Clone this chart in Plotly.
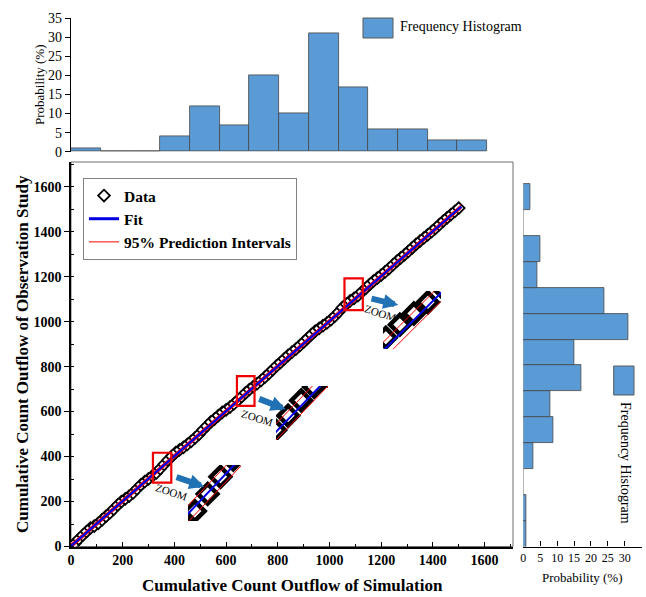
import plotly.graph_objects as go

# ---------------- data ----------------
sim_x = [0, 15, 30, 45, 60, 75, 90, 105, 120, 135, 150, 165, 180, 195, 210, 225, 240, 255, 270, 285,
         300, 315, 330, 345, 360, 375, 390, 405, 420, 435, 450, 465, 480, 495, 510, 525, 540, 555, 570, 585,
         600, 615, 630, 645, 660, 675, 690, 705, 720, 735, 750, 765, 780, 795, 810, 825, 840, 855, 870, 885,
         900, 915, 930, 945, 960, 975, 990, 1005, 1020, 1035, 1050, 1065, 1080, 1095, 1110, 1125, 1140, 1155,
         1170, 1185, 1200, 1215, 1230, 1245, 1260, 1275, 1290, 1305, 1320, 1335, 1350, 1365, 1380, 1395, 1410,
         1425, 1440, 1455, 1470, 1485, 1500]
obs_y = [2, 14, 33, 50, 66, 82, 91, 103, 118, 134, 149, 166, 184, 200, 212, 224, 238, 256, 274, 288,
         301, 314, 327, 346, 365, 384, 401, 418, 430, 441, 454, 468, 483, 499, 518, 535, 553, 567, 582, 596,
         608, 620, 634, 650, 666, 683, 698, 711, 724, 738, 753, 769, 786, 803, 818, 834, 850, 864, 878, 893,
         909, 926, 942, 958, 970, 982, 994, 1008, 1024, 1042, 1062, 1078, 1092, 1104, 1116, 1132, 1148, 1165,
         1180, 1194, 1207, 1221, 1236, 1252, 1268, 1283, 1297, 1312, 1328, 1344, 1358, 1372, 1386, 1400, 1415,
         1431, 1447, 1462, 1476, 1490, 1505]

fit_x = [0, 1510]
fit_y = [2, 1512]
pi_upper = [11, 1521]
pi_lower = [-7, 1503]

bin_edges = [0, 115, 230, 345, 460, 575, 690, 805, 920, 1035, 1150, 1265, 1380, 1495, 1610]
top_hist_prob = [1, 0, 0, 4, 12, 7, 20, 10, 31, 17, 6, 6, 3, 3]      # simulation
right_hist_prob = [1, 1, 0, 3, 9, 8, 17, 15, 31, 24, 4, 5, 0, 2]    # observation

zoom_boxes_x = [[317, 388], [642, 710], [1058, 1129]]
zoom_boxes_y = [[284, 417], [625, 758], [1051, 1192]]
inset_x_ranges = [[322, 384], [646, 706], [1062, 1124]]
inset_y_ranges = [[316, 378], [639, 699], [1066, 1128]]

# ---------------- helpers ----------------
W, H = 646, 597
def px(x):
    return x / W
def py(y):
    return 1 - y / H

SERIF = "Liberation Serif"
BAR = "rgb(91,155,213)"
BAR_LINE = "rgb(70,70,70)"
ARROW = "rgb(33,113,181)"

bin_centers = [(bin_edges[i] + bin_edges[i + 1]) / 2 for i in range(len(bin_edges) - 1)]
bin_width = bin_edges[1] - bin_edges[0]

fig = go.Figure()

# main scatter
fig.add_trace(go.Scatter(x=sim_x, y=obs_y, mode="markers", name="Data",
                         marker=dict(symbol="diamond", size=9, color="white",
                                     line=dict(color="black", width=1.8)),
                         xaxis="x", yaxis="y"))
fig.add_trace(go.Scatter(x=fit_x, y=fit_y, mode="lines", name="Fit",
                         line=dict(color="rgb(0,0,230)", width=3), xaxis="x", yaxis="y"))
fig.add_trace(go.Scatter(x=fit_x, y=pi_upper, mode="lines", name="95% Prediction Intervals",
                         line=dict(color="rgb(255,0,0)", width=1), xaxis="x", yaxis="y"))
fig.add_trace(go.Scatter(x=fit_x, y=pi_lower, mode="lines", showlegend=False,
                         line=dict(color="rgb(255,0,0)", width=1), xaxis="x", yaxis="y"))

# top histogram
fig.add_trace(go.Bar(x=bin_centers, y=top_hist_prob, width=bin_width, showlegend=False,
                     marker=dict(color=BAR, line=dict(color=BAR_LINE, width=0.8)),
                     xaxis="x2", yaxis="y2"))
# right histogram
fig.add_trace(go.Bar(y=bin_centers, x=right_hist_prob, width=bin_width, orientation="h",
                     showlegend=False,
                     marker=dict(color=BAR, line=dict(color=BAR_LINE, width=0.8)),
                     xaxis="x3", yaxis="y3"))

# insets (magnified views of the red boxes)
inset_domains = [([188, 241], [465, 521]), ([276, 328], [386, 440]), ([383, 441], [291, 349])]
for k in range(3):
    xa = "x%d" % (4 + k)
    ya = "y%d" % (4 + k)
    fig.add_trace(go.Scatter(x=sim_x, y=obs_y, mode="markers", showlegend=False,
                             marker=dict(symbol="diamond", size=15, color="white",
                                         line=dict(color="black", width=4.5)),
                             xaxis=xa, yaxis=ya))
    fig.add_trace(go.Scatter(x=fit_x, y=fit_y, mode="lines", showlegend=False,
                             line=dict(color="rgb(0,0,230)", width=2), xaxis=xa, yaxis=ya))
    fig.add_trace(go.Scatter(x=fit_x, y=pi_upper, mode="lines", showlegend=False,
                             line=dict(color="rgb(255,0,0)", width=1), xaxis=xa, yaxis=ya))
    fig.add_trace(go.Scatter(x=fit_x, y=pi_lower, mode="lines", showlegend=False,
                             line=dict(color="rgb(255,0,0)", width=1), xaxis=xa, yaxis=ya))

main_xdom = [px(71), px(513)]
main_ydom = [py(546.5), py(162)]

tickfont_bold = dict(family=SERIF, size=14, color="black", weight="bold")
tickfont = dict(family=SERIF, size=14, color="black")

layout = dict(
    width=W, height=H, margin=dict(l=0, r=0, t=0, b=0, autoexpand=False),
    paper_bgcolor="white", plot_bgcolor="rgba(0,0,0,0)",
    xaxis=dict(domain=main_xdom, range=[0, 1710], anchor="y", showgrid=False, zeroline=False,
               showline=True, linecolor="black", linewidth=1.5, automargin=False,
               ticks="inside", ticklen=5, tickwidth=1.2, tickcolor="black", dtick=200, tick0=0,
               minor=dict(ticks="inside", ticklen=3, dtick=100, tickcolor="black"),
               tickfont=tickfont_bold),
    yaxis=dict(domain=main_ydom, range=[0, 1710], anchor="x", showgrid=False, zeroline=False,
               showline=True, linecolor="black", linewidth=1.5, automargin=False,
               ticks="outside", ticklen=5, tickwidth=1.2, tickcolor="black", dtick=200, tick0=0,
               minor=dict(ticks="inside", ticklen=3, dtick=100, tickcolor="black"),
               tickfont=tickfont_bold),
    xaxis2=dict(domain=main_xdom, range=[0, 1710], anchor="y2", visible=False, automargin=False),
    yaxis2=dict(domain=[py(151.7), py(18.3)], range=[0, 35], anchor="x2", showgrid=False,
                zeroline=False, showline=True, linecolor="black", linewidth=1.2, automargin=False,
                ticks="outside", ticklen=5, tickcolor="black", dtick=5, tick0=0,
                tickfont=tickfont),
    xaxis3=dict(domain=[px(523.3), px(641.7)], range=[0, 35], anchor="y3", showgrid=False,
                zeroline=False, showline=True, linecolor="black", linewidth=1.2, automargin=False,
                ticks="inside", ticklen=5, tickcolor="black", dtick=5, tick0=0,
                tickfont=dict(family=SERIF, size=12, color="black")),
    yaxis3=dict(domain=main_ydom, range=[0, 1710], anchor="x3", visible=False, automargin=False),
    legend=dict(x=px(83), y=py(178), xanchor="left", yanchor="top",
                bgcolor="white", bordercolor="rgb(130,130,130)", borderwidth=1,
                font=dict(family=SERIF, size=15.5, color="black", weight="bold"),
                tracegroupgap=0, itemwidth=30),
    bargap=0,
)
for k in range(3):
    (x0, x1), (y0, y1) = inset_domains[k]
    layout["xaxis%d" % (4 + k)] = dict(domain=[px(x0), px(x1)], range=inset_x_ranges[k],
                                       anchor="y%d" % (4 + k), visible=False, automargin=False)
    layout["yaxis%d" % (4 + k)] = dict(domain=[py(y1), py(y0)], range=inset_y_ranges[k],
                                       anchor="x%d" % (4 + k), visible=False, automargin=False)
fig.update_layout(**layout)

shapes = []
# frame around main plot
shapes.append(dict(type="rect", xref="paper", yref="paper", x0=main_xdom[0], x1=main_xdom[1],
                   y0=main_ydom[0], y1=main_ydom[1], line=dict(color="rgb(110,110,110)", width=1),
                   layer="below"))
# red zoom boxes
for bx, by in zip(zoom_boxes_x, zoom_boxes_y):
    shapes.append(dict(type="rect", xref="x", yref="y", x0=bx[0], x1=bx[1], y0=by[0], y1=by[1],
                       line=dict(color="rgb(240,0,0)", width=2.2)))
# histogram legend boxes
shapes.append(dict(type="rect", xref="paper", yref="paper", x0=px(363), x1=px(393),
                   y0=py(38), y1=py(18), fillcolor=BAR, line=dict(color="rgb(90,90,90)", width=1)))
shapes.append(dict(type="rect", xref="paper", yref="paper", x0=px(613.7), x1=px(634),
                   y0=py(395), y1=py(366), fillcolor=BAR, line=dict(color="rgb(90,90,90)", width=1)))
fig.update_layout(shapes=shapes)

def txt(text, x, y, size, bold=False, angle=0, xanchor="center"):
    f = dict(family=SERIF, size=size, color="black")
    if bold:
        f["weight"] = "bold"
    return dict(text=text, x=px(x), y=py(y), xref="paper", yref="paper", showarrow=False,
                xanchor=xanchor, yanchor="middle", textangle=angle, font=f)

ann = []
ann.append(txt("Cumulative Count Outflow of Simulation", 292, 585, 17, bold=True))
ann.append(txt("Cumulative Count Outflow of Observation Study", 22, 354, 17, bold=True, angle=-90))
ann.append(txt("Probability (%)", 40, 85, 13, angle=-90))
ann.append(txt("Probability (%)", 582, 577, 13))
ann.append(txt("Frequency Histogram", 398, 27, 14, xanchor="left"))
ann.append(txt("Frequency Histogram", 626, 463, 14, angle=90))
# arrows
arrows = [((204.3, 486.7), (175, 476.7)), ((285.7, 409.3), (257.7, 398.3)),
          ((398.3, 305), (370, 298.3))]
for (hx, hy), (tx, ty) in arrows:
    ann.append(dict(text="", x=px(hx), y=py(hy), xref="paper", yref="paper",
                    ax=tx - hx, ay=ty - hy, showarrow=True, arrowhead=2, arrowsize=0.5,
                    arrowwidth=6, arrowcolor=ARROW, standoff=0))
zoom_text_pos = [(171.7, 492.3), (257.7, 417.7), (380, 313.3)]
for zx, zy in zoom_text_pos:
    ann.append(txt("ZOOM", zx, zy, 11, angle=18))
fig.update_layout(annotations=ann)

fig.write_html("out.html")
